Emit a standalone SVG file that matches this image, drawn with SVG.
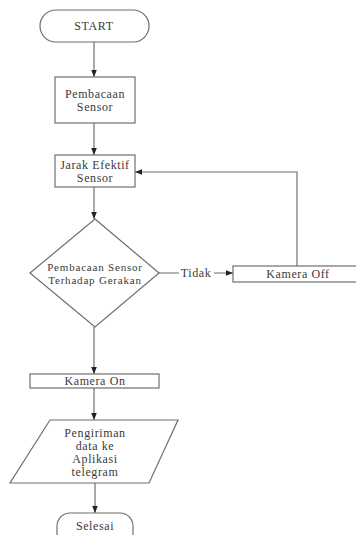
<svg xmlns="http://www.w3.org/2000/svg" width="356" height="535" viewBox="0 0 356 535">
<style>
.s{fill:#fff;stroke:#6e6e6e;stroke-width:1.2}
.t{font-family:"Liberation Serif","Times New Roman",serif;font-size:12px;letter-spacing:0.6px;fill:#3a3a3a;text-anchor:middle}
.d{font-size:11px;letter-spacing:0.8px}
.c{fill:none;stroke:#6e6e6e;stroke-width:1.2}
</style>
<defs>
<marker id="a" viewBox="0 0 10 10" refX="10" refY="5" markerWidth="7" markerHeight="7" orient="auto" markerUnits="userSpaceOnUse">
<path d="M0,1 L10,5 L0,9 Z" fill="#222"/>
</marker>
</defs>
<rect width="356" height="535" fill="#fff"/>
<g id="connectors">
<line class="c" x1="94" y1="42" x2="94" y2="77" marker-end="url(#a)"/>
<line class="c" x1="94" y1="123" x2="94" y2="155" marker-end="url(#a)"/>
<line class="c" x1="94" y1="187" x2="94" y2="219" marker-end="url(#a)"/>
<line class="c" x1="159" y1="273" x2="233" y2="273" marker-end="url(#a)"/>
<polyline class="c" points="297,266 297,172 135,172" marker-end="url(#a)"/>
<line class="c" x1="94" y1="327" x2="94" y2="374" marker-end="url(#a)"/>
<line class="c" x1="94" y1="388" x2="94" y2="420" marker-end="url(#a)"/>
<line class="c" x1="95" y1="483" x2="95" y2="513" marker-end="url(#a)"/>
<rect x="179" y="266" width="35" height="13" fill="#fff"/>
<text class="t" x="196" y="277">Tidak</text>
</g>
<g id="start">
<rect class="s" x="40" y="10" width="109" height="32" rx="16"/>
<text class="t" x="94" y="30">START</text>
</g>
<g id="pembacaan">
<rect class="s" x="55" y="77" width="80" height="46"/>
<text class="t" x="95" y="98">Pembacaan</text>
<text class="t" x="95" y="111">Sensor</text>
</g>
<g id="jarak">
<rect class="s" x="55" y="155" width="80" height="32"/>
<text class="t" x="95" y="169">Jarak Efektif</text>
<text class="t" x="95" y="182">Sensor</text>
</g>
<g id="decision">
<polygon class="s" points="95,219 159,273 95,327 30,273"/>
<text class="t d" x="95" y="271">Pembacaan Sensor</text>
<text class="t d" x="95" y="284">Terhadap Gerakan</text>
</g>
<g id="kamera-off">
<rect class="s" x="233" y="266" width="130" height="16"/>
<text class="t" x="298" y="278">Kamera Off</text>
</g>
<g id="kamera-on">
<rect class="s" x="30" y="374" width="129" height="14"/>
<text class="t" x="95" y="385">Kamera On</text>
</g>
<g id="pengiriman">
<polygon class="s" points="50,420 178,420 149,483 10,483"/>
<text class="t" x="95" y="437">Pengiriman</text>
<text class="t" x="95" y="450">data ke</text>
<text class="t" x="95" y="463">Aplikasi</text>
<text class="t" x="95" y="476">telegram</text>
</g>
<g id="selesai">
<rect class="s" x="57" y="513" width="76" height="34" rx="13"/>
<text class="t" x="95" y="530">Selesai</text>
</g>
</svg>
